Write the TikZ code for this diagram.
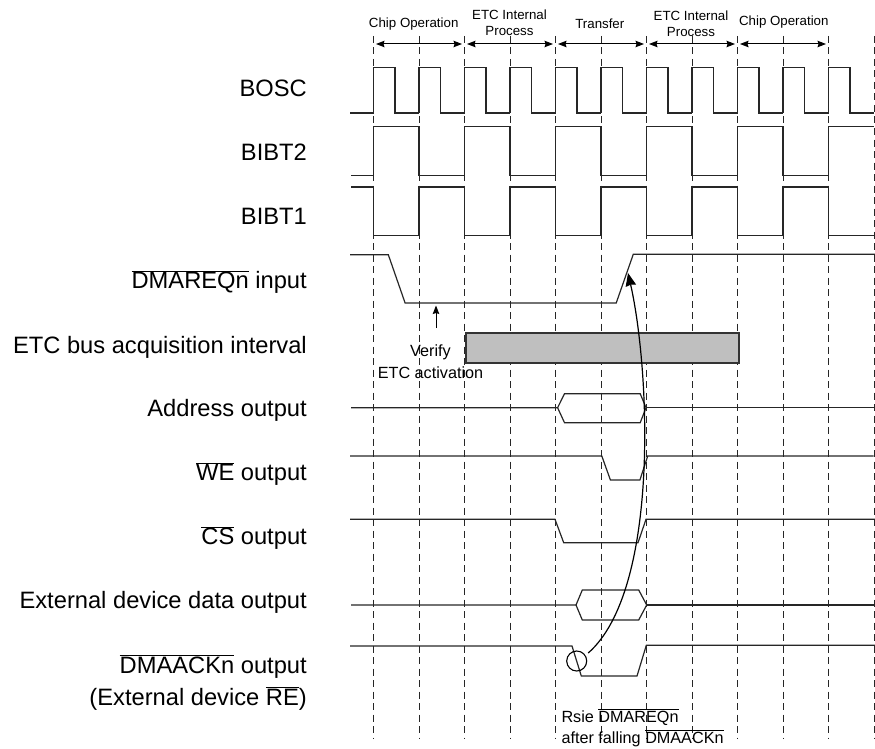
\documentclass[tikz,border=0pt]{standalone}
\usepackage{fontspec}
\setmainfont{Liberation Sans}
\usepackage{tikz}
\usetikzlibrary{arrows.meta,positioning,calc}
\newcommand{\sigbar}[1]{$\overline{\mbox{#1}}$}

\begin{document}
\begin{tikzpicture}[
  x=1pt, y=-1pt,
  siglabel/.style={inner sep=0pt, anchor=base east, align=right,
                   font=\fontsize{23.7}{31.7}\selectfont},
  phase/.style={inner sep=0pt, align=center,
                font=\fontsize{13.3}{15.7}\selectfont},
  note/.style={inner sep=0pt, font=\fontsize{16.2}{21.3}\selectfont},
  grid line/.style={line width=0.9pt, black!85, dash pattern=on 7pt off 4.5pt},
  wave/.style={line width=1.2pt, black!85, line join=miter},
  span/.style={line width=1pt, {Stealth[length=8.5pt,width=6.5pt,inset=1pt]}-{Stealth[length=8.5pt,width=6.5pt,inset=1pt]}},
  busy/.style={draw=black!80, line width=1.3pt, fill=gray!50}
]
\useasboundingbox (0,0) rectangle (875,749);

\foreach \i [evaluate=\i as \x using 373.5+45.5*\i] in {0,...,11} {
  \coordinate (top\i) at (\x,36);
  \coordinate (mid\i) at (\x,44);
  \coordinate (end\i) at (\x,738);
  \draw[grid line] (top\i) -- (end\i);
}

\node[siglabel] (bosc) at (307,96.7) {BOSC};
\node[siglabel, below=64pt of bosc.base east, anchor=base east] (bibt2) {BIBT2};
\node[siglabel, below=64pt of bibt2.base east, anchor=base east] (bibt1) {BIBT1};
\node[siglabel, below=64pt of bibt1.base east, anchor=base east] (dmareq) {\sigbar{DMAREQn} input};
\node[siglabel, below=64.5pt of dmareq.base east, anchor=base east] (etcbus) {ETC bus acquisition interval};
\node[siglabel, below=63.5pt of etcbus.base east, anchor=base east] (addr) {Address output};
\node[siglabel, below=64pt of addr.base east, anchor=base east] (we) {\sigbar{WE} output};
\node[siglabel, below=64pt of we.base east, anchor=base east] (cs) {\sigbar{CS} output};
\node[siglabel, below=64pt of cs.base east, anchor=base east] (extdata) {External device data output};
\node[siglabel, below=96.3pt of extdata.base east, anchor=base east] (dmaack) {\sigbar{DMAACKn} output\\(External device \sigbar{RE})};

\node[phase] (chip1) at (413.7,24) {Chip Operation};
\node[phase] (etc1) at (509.5,22.5) {ETC Internal\\Process};
\node[phase] (transfer) at (599.8,24) {Transfer};
\node[phase] (etc2) at (691,23.5) {ETC Internal\\Process};
\node[phase] (chip2) at (783.8,22) {Chip Operation};

\foreach \a/\b in {0/2,2/4,4/6,6/8,8/10}
  \draw[span] ([xshift=2.5pt]mid\a) -- ([xshift=-2.5pt]mid\b);

\node[busy, minimum width=273pt, minimum height=30pt, inner sep=0pt] (acq) at (602.5,348) {};

\draw[wave] (350,113) -- (373.5,113);
\foreach \i [evaluate=\i as \x using 373.5+45.5*\i] in {0,...,10}
  \draw[wave] (\x,113) -- (\x,67.7) -- (\x+21.5,67.7) -- (\x+21.5,113) -- (\x+45.5,113);

\draw[wave] (351,175.3) -- (373.5,175.3);
\foreach \i [evaluate=\i as \x using 373.5+91*\i] in {0,...,4}
  \draw[wave] (\x,175.3) -- (\x,126.7) -- (\x+45.5,126.7) -- (\x+45.5,175.3) -- (\x+91,175.3);
\draw[wave] (828.5,175.3) -- (828.5,126.7) -- (874,126.7);

\draw[wave] (351,187) -- (373.5,187);
\foreach \i [evaluate=\i as \x using 373.5+91*\i] in {0,...,4}
  \draw[wave] (\x,187) -- (\x,235.7) -- (\x+45.5,235.7) -- (\x+45.5,187) -- (\x+91,187);
\draw[wave] (828.5,187) -- (828.5,235.7) -- (874,235.7);

\draw[wave] (350,254.7) -- (388.3,254.7) -- (405.1,303) -- (616.2,303) -- (633.3,254.2) -- (875,254.2);

\draw[wave] (351,407.7) -- (557.6,407.7) -- (564.5,393.7) -- (640.2,393.7) -- (646,407.7)
  -- (640.2,422.7) -- (564.5,422.7) -- (557.6,407.7);
\draw[wave] (646,407.7) -- (873.6,407.7);

\draw[wave] (350,456) -- (601.8,456) -- (610.4,480) -- (639.9,480) -- (647.7,456) -- (873.6,456);
\draw[wave] (350,519.3) -- (555,519.3) -- (563.7,542.7) -- (638,542.7) -- (646,519.3) -- (875,519.3);

\draw[wave] (351,605) -- (576,605) -- (582.3,590) -- (638.7,590) -- (646.7,605)
  -- (638.7,620) -- (582.3,620) -- (576,605);
\draw[wave] (646.7,605) -- (875,605);

\draw[wave] (350,646) -- (572,646) -- (581.3,676) -- (637,676) -- (646.3,645.3) -- (875,645.3);

\node[note, align=center, anchor=base] (verify) at (430.5,378) {Verify\\ETC activation};
\coordinate (arrowfoot) at (436,328);
\coordinate (arrowhead) at (436,305.5);
\draw[line width=1pt, -{Stealth[length=8.5pt,width=6.5pt,inset=1pt]}] (arrowfoot) -- (arrowhead);

\node[draw, circle, line width=1.1pt, minimum size=20pt, inner sep=0pt] (fall) at (576.7,661) {};
\coordinate (rise) at (628,273);
\draw[line width=1.2pt, -{Stealth[length=13pt,width=10.5pt,inset=1pt]}]
  (fall.north east) ++(4,-0.5) .. controls (660,590) and (650,370) .. (rise);

\node[note, align=left, anchor=base west] (rsie) at (561.3,743.3) {Rsie \sigbar{DMAREQn}\\after falling \sigbar{DMAACKn}};
\end{tikzpicture}
\end{document}
